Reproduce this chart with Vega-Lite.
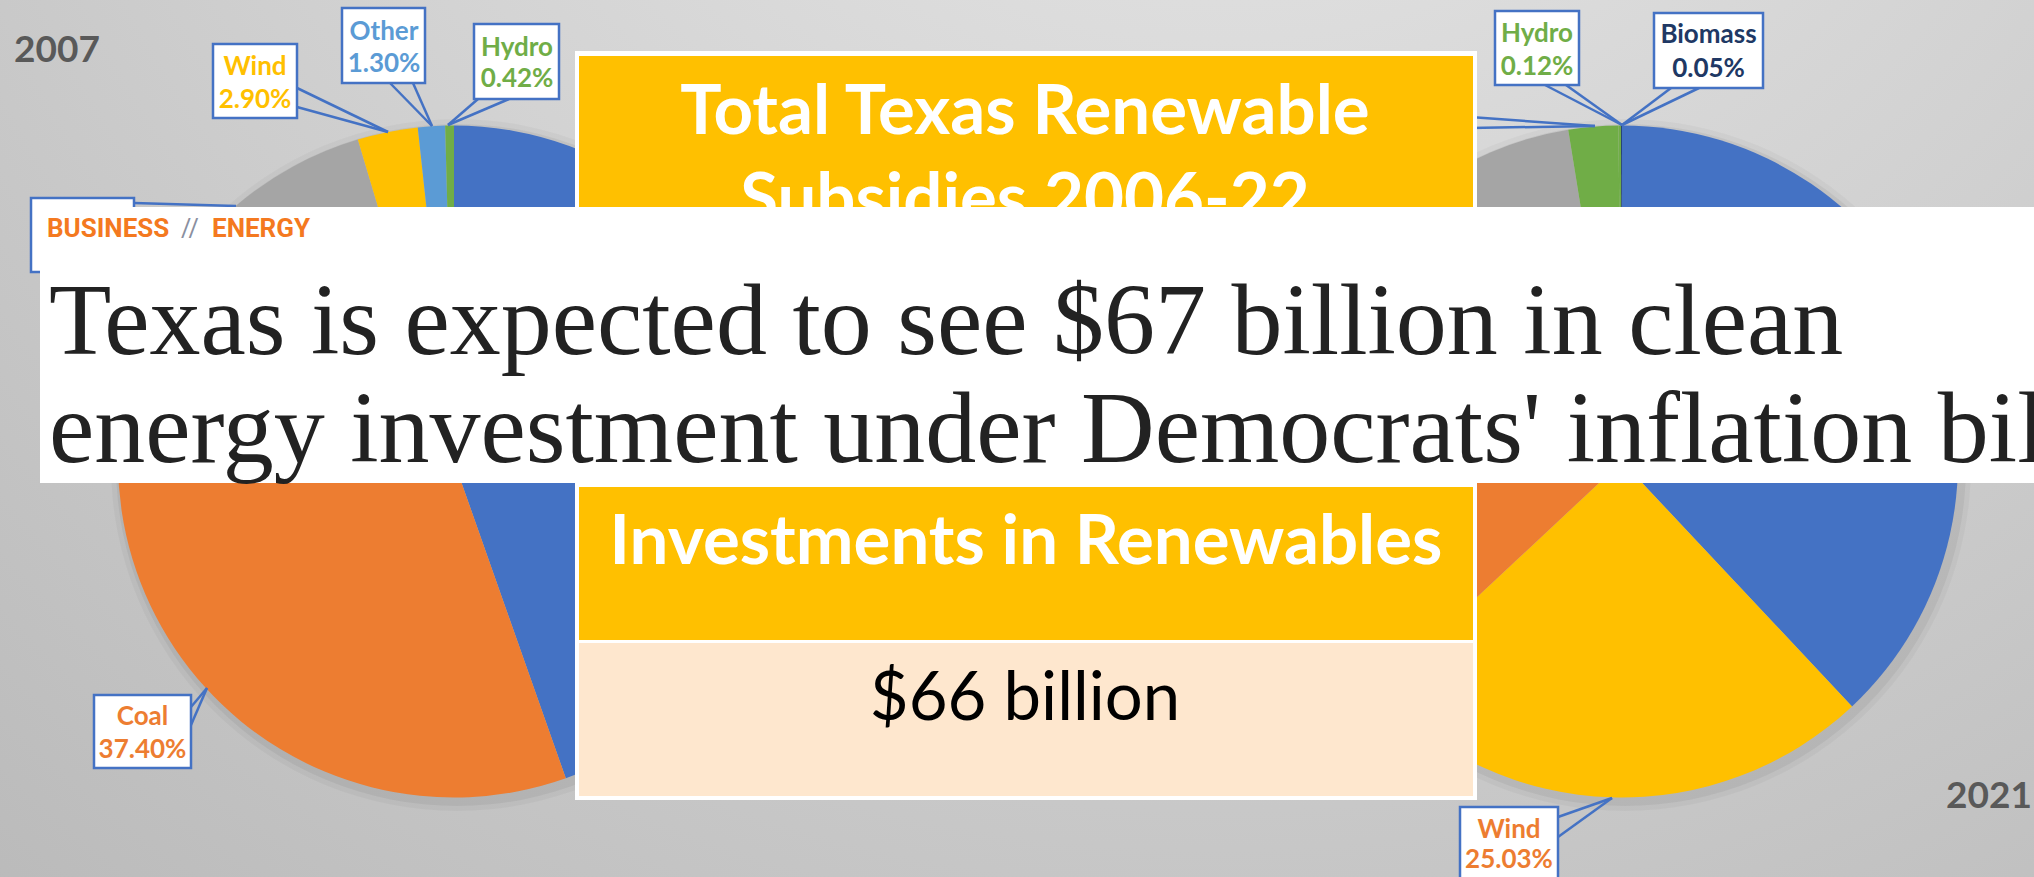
{
"$schema":"https://vega.github.io/schema/vega-lite/v6.json",
"width":2034,"height":877,"padding":0,
"autosize":{"type":"none"},
"background":"#d6d6d6",
"config":{"view":{"stroke":null},"axis":{"disable":true},"legend":{"disable":true}},
"datasets":{"pie":[
{"year":"2007","source":"Natural Gas","share":0.446,"seq":1},
{"year":"2007","source":"Coal","share":0.374,"seq":2},
{"year":"2007","source":"Nuclear","share":0.1338,"seq":3},
{"year":"2007","source":"Wind","share":0.029,"seq":4},
{"year":"2007","source":"Other","share":0.013,"seq":5},
{"year":"2007","source":"Hydro","share":0.0042,"seq":6},
{"year":"2021","source":"Natural Gas","share":0.38,"seq":1},
{"year":"2021","source":"Wind","share":0.2503,"seq":2},
{"year":"2021","source":"Coal","share":0.19,"seq":3},
{"year":"2021","source":"Nuclear","share":0.1541,"seq":4},
{"year":"2021","source":"Solar","share":0.0239,"seq":5},
{"year":"2021","source":"Hydro","share":0.0012,"seq":6},
{"year":"2021","source":"Biomass","share":0.0005,"seq":7}
]},
"data":{"name":"pie"},
"layer":[
{"data":{"values":[{}]},
 "mark":{"type":"rect","fill":{"gradient":"radial","x1":0.6,"y1":0,"x2":0.6,"y2":0,"r1":0,"r2":1.1,"stops":[{"offset":0,"color":"#ececec"},{"offset":1,"color":"#b2b2b2"}]}},
 "encoding":{
  "x":{"datum":0,"scale":{"domain":[0,2034],"nice":false,"zero":false},"axis":null},
  "x2":{"datum":2034},
  "y":{"datum":0,"scale":{"domain":[0,877],"nice":false,"zero":false,"reverse":true},"axis":null},
  "y2":{"datum":877}}},
{"data":{"values":[{}]},"mark":{"type":"arc","theta":0,"theta2":6.2832,"radius":346,"fill":"#000000","opacity":0.03},"encoding":{"x":{"datum":457},"y":{"datum":465}}},
{"data":{"values":[{}]},"mark":{"type":"arc","theta":0,"theta2":6.2832,"radius":341,"fill":"#000000","opacity":0.05},"encoding":{"x":{"datum":457},"y":{"datum":465}}},
{"data":{"values":[{}]},"mark":{"type":"arc","theta":0,"theta2":6.2832,"radius":346,"fill":"#000000","opacity":0.03},"encoding":{"x":{"datum":1625},"y":{"datum":465}}},
{"data":{"values":[{}]},"mark":{"type":"arc","theta":0,"theta2":6.2832,"radius":341,"fill":"#000000","opacity":0.05},"encoding":{"x":{"datum":1625},"y":{"datum":465}}},
{"transform":[{"filter":"datum.year=='2007'"}],
 "mark":{"type":"arc","radius":336},
 "encoding":{
  "x":{"datum":454},"y":{"datum":461.5},
  "theta":{"field":"share","type":"quantitative","stack":true,"scale":{"domain":[0,1]}},
  "order":{"field":"seq","type":"quantitative"},
  "color":{"field":"source","type":"nominal","legend":null,"scale":{"domain":["Natural Gas","Coal","Nuclear","Wind","Other","Hydro","Solar","Biomass"],"range":["#4472C4","#ED7D31","#A5A5A5","#FFC000","#5B9BD5","#70AD47","#70AD47","#264478"]}}}},
{"transform":[{"filter":"datum.year=='2021'"}],
 "mark":{"type":"arc","radius":336},
 "encoding":{
  "x":{"datum":1622},"y":{"datum":461.5},
  "theta":{"field":"share","type":"quantitative","stack":true,"scale":{"domain":[0,1]}},
  "order":{"field":"seq","type":"quantitative"},
  "color":{"field":"source","type":"nominal","legend":null}}},

{"transform":[{"filter":"datum.year=='2007' && datum.source=='Wind'"}],
 "layer":[
  {"mark":{"type":"rule","color":"#4472C4","strokeWidth":2.5},"encoding":{"x":{"datum":297},"y":{"datum":88},"x2":{"datum":388},"y2":{"datum":132}}},
  {"mark":{"type":"rule","color":"#4472C4","strokeWidth":2.5},"encoding":{"x":{"datum":297},"y":{"datum":107},"x2":{"datum":388},"y2":{"datum":132}}},
  {"mark":{"type":"rect","fill":"#ffffff","stroke":"#4472C4","strokeWidth":2.5},"encoding":{"x":{"datum":213},"x2":{"datum":297},"y":{"datum":44},"y2":{"datum":118}}},
  {"mark":{"type":"text","font":"Lato","fontWeight":"bold","fontSize":26,"color":"#FFC000","align":"center","baseline":"alphabetic"},"encoding":{"text":{"field":"source"},"x":{"datum":255},"y":{"datum":75}}},
  {"mark":{"type":"text","font":"Lato","fontWeight":"bold","fontSize":26,"color":"#FFC000","align":"center","baseline":"alphabetic"},"encoding":{"text":{"field":"share","type":"quantitative","format":".2%"},"x":{"datum":255},"y":{"datum":108}}}
 ]},
{"transform":[{"filter":"datum.year=='2007' && datum.source=='Other'"}],
 "layer":[
  {"mark":{"type":"rule","color":"#4472C4","strokeWidth":2.5},"encoding":{"x":{"datum":390},"y":{"datum":83},"x2":{"datum":432},"y2":{"datum":126}}},
  {"mark":{"type":"rule","color":"#4472C4","strokeWidth":2.5},"encoding":{"x":{"datum":413},"y":{"datum":83},"x2":{"datum":432},"y2":{"datum":126}}},
  {"mark":{"type":"rect","fill":"#ffffff","stroke":"#4472C4","strokeWidth":2.5},"encoding":{"x":{"datum":342},"x2":{"datum":425},"y":{"datum":8},"y2":{"datum":83}}},
  {"mark":{"type":"text","font":"Lato","fontWeight":"bold","fontSize":26,"color":"#5B9BD5","align":"center","baseline":"alphabetic"},"encoding":{"text":{"field":"source"},"x":{"datum":384},"y":{"datum":40}}},
  {"mark":{"type":"text","font":"Lato","fontWeight":"bold","fontSize":26,"color":"#5B9BD5","align":"center","baseline":"alphabetic"},"encoding":{"text":{"field":"share","type":"quantitative","format":".2%"},"x":{"datum":384},"y":{"datum":72}}}
 ]},
{"transform":[{"filter":"datum.year=='2007' && datum.source=='Hydro'"}],
 "layer":[
  {"mark":{"type":"rule","color":"#4472C4","strokeWidth":2.5},"encoding":{"x":{"datum":478},"y":{"datum":99},"x2":{"datum":448},"y2":{"datum":125}}},
  {"mark":{"type":"rule","color":"#4472C4","strokeWidth":2.5},"encoding":{"x":{"datum":509},"y":{"datum":99},"x2":{"datum":448},"y2":{"datum":125}}},
  {"mark":{"type":"rect","fill":"#ffffff","stroke":"#4472C4","strokeWidth":2.5},"encoding":{"x":{"datum":474},"x2":{"datum":559},"y":{"datum":24},"y2":{"datum":99}}},
  {"mark":{"type":"text","font":"Lato","fontWeight":"bold","fontSize":26,"color":"#70AD47","align":"center","baseline":"alphabetic"},"encoding":{"text":{"field":"source"},"x":{"datum":517},"y":{"datum":56}}},
  {"mark":{"type":"text","font":"Lato","fontWeight":"bold","fontSize":26,"color":"#70AD47","align":"center","baseline":"alphabetic"},"encoding":{"text":{"field":"share","type":"quantitative","format":".2%"},"x":{"datum":517},"y":{"datum":87}}}
 ]},
{"transform":[{"filter":"datum.year=='2007' && datum.source=='Coal'"}],
 "layer":[
  {"mark":{"type":"rule","color":"#4472C4","strokeWidth":2.5},"encoding":{"x":{"datum":191},"y":{"datum":707},"x2":{"datum":207},"y2":{"datum":688}}},
  {"mark":{"type":"rule","color":"#4472C4","strokeWidth":2.5},"encoding":{"x":{"datum":191},"y":{"datum":725},"x2":{"datum":207},"y2":{"datum":688}}},
  {"mark":{"type":"rect","fill":"#ffffff","stroke":"#4472C4","strokeWidth":2.5},"encoding":{"x":{"datum":94},"x2":{"datum":191},"y":{"datum":695},"y2":{"datum":768}}},
  {"mark":{"type":"text","font":"Lato","fontWeight":"bold","fontSize":26,"color":"#ED7D31","align":"center","baseline":"alphabetic"},"encoding":{"text":{"field":"source"},"x":{"datum":142.5},"y":{"datum":725}}},
  {"mark":{"type":"text","font":"Lato","fontWeight":"bold","fontSize":26,"color":"#ED7D31","align":"center","baseline":"alphabetic"},"encoding":{"text":{"field":"share","type":"quantitative","format":".2%"},"x":{"datum":142.5},"y":{"datum":758}}}
 ]},
{"transform":[{"filter":"datum.year=='2007' && datum.source=='Nuclear'"}],
 "layer":[
  {"mark":{"type":"rule","color":"#4472C4","strokeWidth":2.5},"encoding":{"x":{"datum":134},"y":{"datum":203},"x2":{"datum":236},"y2":{"datum":206}}},
  {"mark":{"type":"rect","fill":"#ffffff","stroke":"#4472C4","strokeWidth":2.5},"encoding":{"x":{"datum":31},"x2":{"datum":134},"y":{"datum":198},"y2":{"datum":272}}}
 ]},
{"transform":[{"filter":"datum.year=='2021' && datum.source=='Solar'"}],
 "layer":[
  {"mark":{"type":"rule","color":"#4472C4","strokeWidth":2.5},"encoding":{"x":{"datum":1470},"y":{"datum":117},"x2":{"datum":1595},"y2":{"datum":126}}},
  {"mark":{"type":"rule","color":"#4472C4","strokeWidth":2.5},"encoding":{"x":{"datum":1470},"y":{"datum":128},"x2":{"datum":1595},"y2":{"datum":126}}}
 ]},
{"transform":[{"filter":"datum.year=='2021' && datum.source=='Hydro'"}],
 "layer":[
  {"mark":{"type":"rule","color":"#4472C4","strokeWidth":2.5},"encoding":{"x":{"datum":1545},"y":{"datum":85},"x2":{"datum":1622},"y2":{"datum":125}}},
  {"mark":{"type":"rule","color":"#4472C4","strokeWidth":2.5},"encoding":{"x":{"datum":1566},"y":{"datum":85},"x2":{"datum":1622},"y2":{"datum":125}}},
  {"mark":{"type":"rect","fill":"#ffffff","stroke":"#4472C4","strokeWidth":2.5},"encoding":{"x":{"datum":1495},"x2":{"datum":1579},"y":{"datum":11},"y2":{"datum":85}}},
  {"mark":{"type":"text","font":"Lato","fontWeight":"bold","fontSize":26,"color":"#70AD47","align":"center","baseline":"alphabetic"},"encoding":{"text":{"field":"source"},"x":{"datum":1537},"y":{"datum":42}}},
  {"mark":{"type":"text","font":"Lato","fontWeight":"bold","fontSize":26,"color":"#70AD47","align":"center","baseline":"alphabetic"},"encoding":{"text":{"field":"share","type":"quantitative","format":".2%"},"x":{"datum":1537},"y":{"datum":75}}}
 ]},
{"transform":[{"filter":"datum.year=='2021' && datum.source=='Biomass'"}],
 "layer":[
  {"mark":{"type":"rule","color":"#4472C4","strokeWidth":2.5},"encoding":{"x":{"datum":1671},"y":{"datum":88},"x2":{"datum":1622},"y2":{"datum":125}}},
  {"mark":{"type":"rule","color":"#4472C4","strokeWidth":2.5},"encoding":{"x":{"datum":1699},"y":{"datum":88},"x2":{"datum":1622},"y2":{"datum":125}}},
  {"mark":{"type":"rect","fill":"#ffffff","stroke":"#4472C4","strokeWidth":2.5},"encoding":{"x":{"datum":1654},"x2":{"datum":1763},"y":{"datum":13},"y2":{"datum":88}}},
  {"mark":{"type":"text","font":"Lato","fontWeight":"bold","fontSize":26,"color":"#203864","align":"center","baseline":"alphabetic"},"encoding":{"text":{"field":"source"},"x":{"datum":1708.5},"y":{"datum":43}}},
  {"mark":{"type":"text","font":"Lato","fontWeight":"bold","fontSize":26,"color":"#203864","align":"center","baseline":"alphabetic"},"encoding":{"text":{"field":"share","type":"quantitative","format":".2%"},"x":{"datum":1708.5},"y":{"datum":77}}}
 ]},
{"transform":[{"filter":"datum.year=='2021' && datum.source=='Wind'"}],
 "layer":[
  {"mark":{"type":"rule","color":"#4472C4","strokeWidth":2.5},"encoding":{"x":{"datum":1558},"y":{"datum":817},"x2":{"datum":1612},"y2":{"datum":798}}},
  {"mark":{"type":"rule","color":"#4472C4","strokeWidth":2.5},"encoding":{"x":{"datum":1558},"y":{"datum":837},"x2":{"datum":1612},"y2":{"datum":798}}},
  {"mark":{"type":"rect","fill":"#ffffff","stroke":"#4472C4","strokeWidth":2.5},"encoding":{"x":{"datum":1460},"x2":{"datum":1558},"y":{"datum":807},"y2":{"datum":895}}},
  {"mark":{"type":"text","font":"Lato","fontWeight":"bold","fontSize":26,"color":"#ED7D31","align":"center","baseline":"alphabetic"},"encoding":{"text":{"field":"source"},"x":{"datum":1509},"y":{"datum":838}}},
  {"mark":{"type":"text","font":"Lato","fontWeight":"bold","fontSize":26,"color":"#ED7D31","align":"center","baseline":"alphabetic"},"encoding":{"text":{"field":"share","type":"quantitative","format":".2%"},"x":{"datum":1509},"y":{"datum":868}}}
 ]},

{"data":{"values":[{"year":"2007"}]},"mark":{"type":"text","font":"Lato","fontWeight":"bold","fontSize":37,"color":"#595959","align":"left","baseline":"alphabetic"},"encoding":{"text":{"field":"year"},"x":{"datum":14},"y":{"datum":62}}},
{"data":{"values":[{"year":"2021"}]},"mark":{"type":"text","font":"Lato","fontWeight":"bold","fontSize":37,"color":"#595959","align":"left","baseline":"alphabetic"},"encoding":{"text":{"field":"year"},"x":{"datum":1946},"y":{"datum":808}}},

{"data":{"values":[{"title":"Total Texas Renewable\nSubsidies 2006-22","header":"Investments in Renewables","amount":"$66 billion"}]},
 "layer":[
  {"mark":{"type":"rect","fill":"#ffffff"},"encoding":{"x":{"datum":575},"x2":{"datum":1477},"y":{"datum":51},"y2":{"datum":800}}},
  {"mark":{"type":"rect","fill":"#FFC000"},"encoding":{"x":{"datum":579},"x2":{"datum":1473},"y":{"datum":56},"y2":{"datum":640}}},
  {"mark":{"type":"rect","fill":"#FEE7CE"},"encoding":{"x":{"datum":579},"x2":{"datum":1473},"y":{"datum":643},"y2":{"datum":796}}},
  {"mark":{"type":"rule","color":"#ffffff","strokeWidth":4},"encoding":{"x":{"datum":579},"x2":{"datum":1473},"y":{"datum":485}}},
  {"mark":{"type":"text","font":"Lato","fontWeight":"bold","fontSize":69,"color":"#ffffff","align":"center","baseline":"alphabetic","lineBreak":"\n","lineHeight":88},"encoding":{"text":{"field":"title"},"x":{"datum":1025},"y":{"datum":134}}},
  {"mark":{"type":"text","font":"Lato","fontWeight":"bold","fontSize":69,"color":"#ffffff","align":"center","baseline":"alphabetic"},"encoding":{"text":{"field":"header"},"x":{"datum":1026},"y":{"datum":564}}},
  {"mark":{"type":"text","font":"Lato","fontSize":67,"color":"#000000","align":"center","baseline":"alphabetic"},"encoding":{"text":{"field":"amount"},"x":{"datum":1025},"y":{"datum":720}}}
 ]},

{"data":{"values":[{"section":"BUSINESS","sep":"//","topic":"ENERGY","headline":"Texas is expected to see $67 billion in clean\nenergy investment under Democrats' inflation bill"}]},
 "layer":[
  {"mark":{"type":"rect","fill":"#ffffff"},"encoding":{"x":{"datum":40},"x2":{"datum":2034},"y":{"datum":207},"y2":{"datum":483}}},
  {"mark":{"type":"text","font":"Roboto","fontWeight":"bold","fontSize":26,"color":"#F47920","align":"left","baseline":"alphabetic"},"encoding":{"text":{"field":"section"},"x":{"datum":47},"y":{"datum":237}}},
  {"mark":{"type":"text","font":"Roboto","fontSize":25,"color":"#8a8fa0","align":"left","baseline":"alphabetic"},"encoding":{"text":{"field":"sep"},"x":{"datum":181},"y":{"datum":237}}},
  {"mark":{"type":"text","font":"Roboto","fontWeight":"bold","fontSize":26,"color":"#F47920","align":"left","baseline":"alphabetic"},"encoding":{"text":{"field":"topic"},"x":{"datum":212},"y":{"datum":237}}},
  {"mark":{"type":"text","font":"Liberation Serif","fontSize":102,"color":"#222222","align":"left","baseline":"alphabetic","lineBreak":"\n","lineHeight":108},"encoding":{"text":{"field":"headline"},"x":{"datum":49},"y":{"datum":354}}}
 ]}
]
}
